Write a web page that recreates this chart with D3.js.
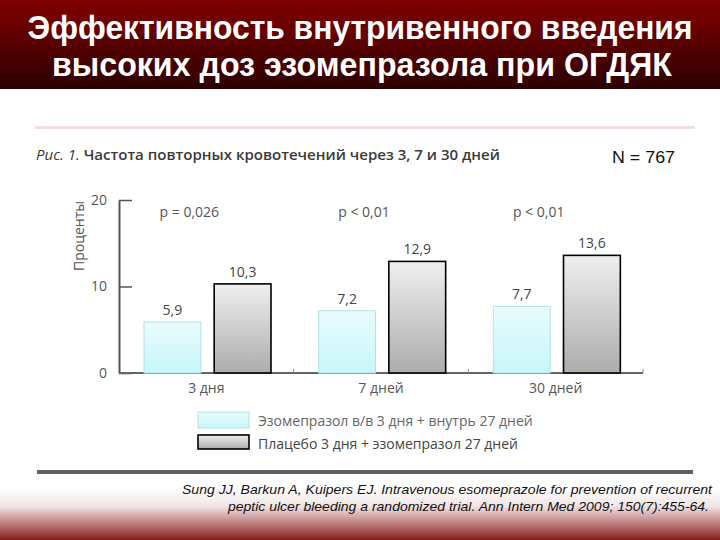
<!DOCTYPE html>
<html><head><meta charset="utf-8">
<script src="https://cdn.jsdelivr.net/npm/d3@7"></script>
<style>body{margin:0;background:#fff}svg{display:block}</style>
</head><body>
<svg id="c" width="720" height="540"></svg>
<script>
const titleLines = ["Эффективность внутривенного введения", "высоких доз эзомепразола при ОГДЯК"];
const figCaptionPrefix = "Рис. 1.";
const figCaption = " Частота повторных кровотечений через 3, 7 и 30 дней";
const sampleNote = "N = 767";
const categories = ["3 дня", "7 дней", "30 дней"];
const seriesNames = ["Эзомепразол в/в 3 дня + внутрь 27 дней", "Плацебо 3 дня + эзомепразол 27 дней"];
const esomeprazole = [5.9, 7.2, 7.7];
const placebo = [10.3, 12.9, 13.6];
const pValues = ["p = 0,026", "p < 0,01", "p < 0,01"];
const yTicks = [0, 10, 20];
const yLabel = "Проценты";
const citation = ["Sung JJ, Barkun A, Kuipers EJ. Intravenous esomeprazole for prevention of recurrent",
                  "peptic ulcer bleeding a randomized trial. Ann Intern Med 2009; 150(7):455-64."];

const svg = d3.select("#c");
const defs = svg.append("defs");
function grad(id, stops){
  const g = defs.append("linearGradient").attr("id",id).attr("x1",0).attr("y1",0).attr("x2",0).attr("y2",1);
  stops.forEach(([o,c])=>g.append("stop").attr("offset",o).attr("stop-color",c));
}
grad("titleGrad",[["0%","#820000"],["100%","#2c0000"]]);
grad("footGrad",[["0%","#ffffff"],["35%","#f1e4e4"],["100%","#8a1c1c"]]);
grad("tealGrad",[["0%","#e8fbfc"],["100%","#c8f6fa"]]);
grad("greyGrad",[["0%","#efefef"],["100%","#acacac"]]);

// title band
svg.append("rect").attr("x",0).attr("y",0).attr("width",720).attr("height",89).attr("fill","url(#titleGrad)");
svg.selectAll("text.title").data(titleLines).join("text")
  .attr("class","title").attr("x",(d,i)=>i?362:360).attr("y",(d,i)=>39+i*37)
  .attr("text-anchor","middle").attr("fill","#fff")
  .attr("font-family","Liberation Sans, Arial, sans-serif").attr("font-weight","bold").attr("font-size",33)
  .attr("textLength",(d,i)=>i?620:665).attr("lengthAdjust","spacingAndGlyphs")
  .text(d=>d);

// footer gradient
svg.append("rect").attr("x",0).attr("y",488).attr("width",720).attr("height",52).attr("fill","url(#footGrad)");

// scanned figure frame
svg.append("rect").attr("x",35).attr("y",126).attr("width",660).attr("height",3).attr("fill","#f3dce5");
svg.append("rect").attr("x",37).attr("y",470).attr("width",656).attr("height",4).attr("fill","#606060");

const fig = svg.append("text").attr("x",36).attr("y",160)
  .attr("font-family","Open Sans, sans-serif").attr("font-size",15).attr("fill","#3a3a3a")
  .attr("textLength",464).attr("lengthAdjust","spacingAndGlyphs");
fig.append("tspan").attr("font-style","italic").text(figCaptionPrefix);
fig.append("tspan").attr("font-weight","600").text(figCaption);
svg.append("text").attr("x",612).attr("y",163).attr("font-family","Liberation Sans, Arial, sans-serif")
  .attr("font-size",16).attr("fill","#111").attr("textLength",63).attr("lengthAdjust","spacingAndGlyphs")
  .text(sampleNote);

// chart
const y = d3.scaleLinear().domain([0,20]).range([373,200]);
const x = d3.scaleBand().domain(categories).range([119,643]).padding(0);
const x1 = d3.scaleBand().domain([0,1]).range([25,152]).paddingInner(0.19).paddingOuter(0);

const chart = svg.append("g");
const fontC = "Open Sans, sans-serif";

// y axis
const yAxis = chart.append("g").attr("transform","translate(119,0)")
  .call(d3.axisLeft(y).tickValues(yTicks).tickSizeInner(-13).tickSizeOuter(0).tickPadding(8));
yAxis.select(".domain").attr("stroke","#555").attr("stroke-width",2);
yAxis.selectAll(".tick line").attr("stroke","#555").attr("stroke-width",1.5);
yAxis.selectAll(".tick text").attr("x",-12).attr("font-family",fontC).attr("font-size",14).attr("fill","#555");

chart.append("text").attr("transform","translate(84,236) rotate(-90)").attr("text-anchor","middle")
  .attr("font-family",fontC).attr("font-size",14).attr("fill","#555").text(yLabel);

// baseline
chart.append("line").attr("x1",119).attr("x2",x.range()[1]).attr("y1",y(0)).attr("y2",y(0))
  .attr("stroke","#666").attr("stroke-width",2);
chart.selectAll("line.sep").data(categories).join("line").attr("class","sep")
  .attr("x1",d=>x(d)+x.bandwidth()).attr("x2",d=>x(d)+x.bandwidth())
  .attr("y1",y(0)).attr("y2",y(0)-4).attr("stroke","#888").attr("stroke-width",1);

const data = categories.map((c,i)=>({c, vals:[esomeprazole[i], placebo[i]], p:pValues[i]}));
const grp = chart.selectAll("g.grp").data(data).join("g").attr("class","grp")
  .attr("transform",d=>`translate(${x(d.c)},0)`);
const fills = ["url(#tealGrad)","url(#greyGrad)"];
const strokes = ["#b2e2e6","#000"];
const sw = [1,1.6];
grp.selectAll("rect").data(d=>d.vals).join("rect")
  .attr("x",(v,i)=>x1(i)).attr("width",x1.bandwidth())
  .attr("y",v=>y(v)).attr("height",v=>y(0)-y(v))
  .attr("fill",(v,i)=>fills[i]).attr("stroke",(v,i)=>strokes[i]).attr("stroke-width",(v,i)=>sw[i]);
grp.selectAll("text.val").data(d=>d.vals).join("text").attr("class","val")
  .attr("x",(v,i)=>x1(i)+x1.bandwidth()/2).attr("y",v=>y(v)-7)
  .attr("text-anchor","middle").attr("font-family",fontC).attr("font-size",14).attr("fill","#444")
  .text(v=>d3.format(".1f")(v).replace(".",","));
grp.append("text").attr("x",x.bandwidth()/2-17).attr("y",217).attr("text-anchor","middle")
  .attr("font-family",fontC).attr("font-size",14).attr("fill","#555").text(d=>d.p);
grp.append("text").attr("x",x.bandwidth()/2).attr("y",393).attr("text-anchor","middle")
  .attr("font-family",fontC).attr("font-size",14).attr("fill","#555").text(d=>d.c);

// legend
const leg = chart.selectAll("g.leg").data(seriesNames).join("g").attr("class","leg")
  .attr("transform",(d,i)=>`translate(198,${412+i*23})`);
leg.append("rect").attr("width",51).attr("height",(d,i)=>i?14:16)
  .attr("fill",(d,i)=>fills[i]).attr("stroke",(d,i)=>strokes[i]).attr("stroke-width",(d,i)=>sw[i]);
leg.append("text").attr("x",60).attr("y",14).attr("font-family",fontC).attr("font-size",14)
  .attr("fill",(d,i)=>i?"#444":"#666").text(d=>d);

// citation
svg.selectAll("text.cit").data(citation).join("text").attr("class","cit")
  .attr("x",(d,i)=>i?709:712).attr("y",(d,i)=>494+i*17).attr("text-anchor","end")
  .attr("font-family","Liberation Sans, Arial, sans-serif").attr("font-style","italic")
  .attr("font-size",13.5).attr("fill","#111")
  .attr("textLength",(d,i)=>i?481:530).attr("lengthAdjust","spacingAndGlyphs").text(d=>d);
</script>
</body></html>
